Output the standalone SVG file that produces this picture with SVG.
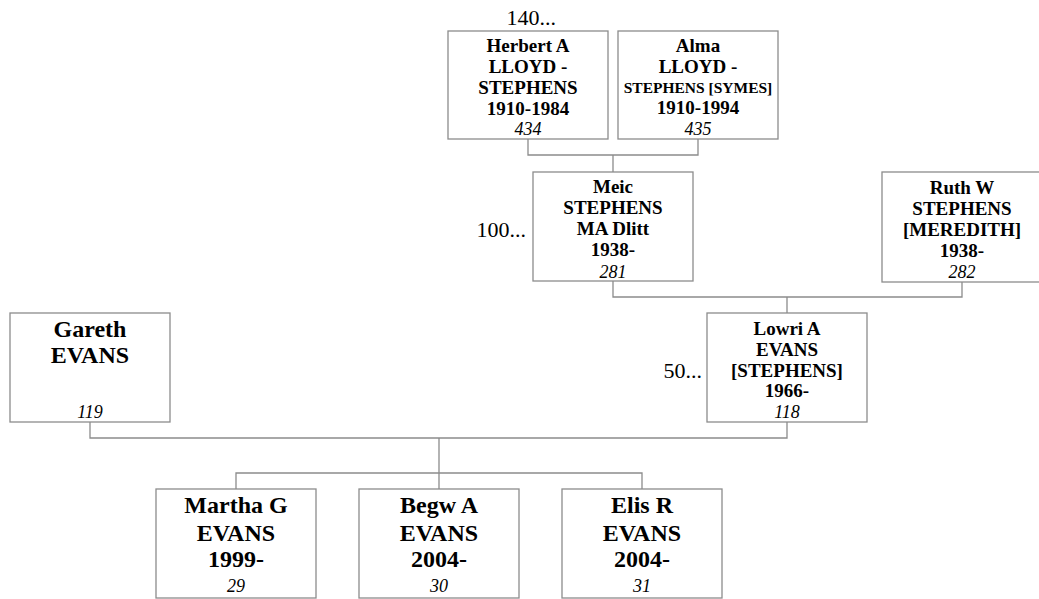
<svg xmlns="http://www.w3.org/2000/svg" width="1039" height="599" viewBox="0 0 1039 599">
<style>
.box{fill:#fff;stroke:#8c8c8c;stroke-width:1.3}
.con{fill:none;stroke:#8c8c8c;stroke-width:1.3}
text{font-family:"Liberation Serif","Times New Roman",serif;fill:#000;text-anchor:middle}
.b{font-weight:bold;font-size:19px}
.bl{font-weight:bold;font-size:24px}
.sm{font-weight:bold;font-size:15.5px}
.i{font-style:italic;font-size:18px}
.lab{font-size:22px;text-anchor:end}
</style>
<rect width="1039" height="599" fill="#fff"/>
<g id="connectors">
<path class="con" d="M528,139 V155 H698 V139 M613,155 V172"/>
<path class="con" d="M613,281 V297 H962 V282 M787,297 V313"/>
<path class="con" d="M90,422 V438 H787 V422 M439,438 V473"/>
<path class="con" d="M236,489 V473 H642 V489 M439,473 V489"/>
</g>
<g id="labels">
<text class="lab" x="556" y="25">140...</text>
<text class="lab" x="526" y="237">100...</text>
<text class="lab" x="702" y="378">50...</text>
</g>
<g id="n434">
<rect class="box" x="448" y="31" width="160" height="108"/>
<text class="b" x="528" y="52">Herbert A</text>
<text class="b" x="528" y="73">LLOYD -</text>
<text class="b" x="528" y="94">STEPHENS</text>
<text class="b" x="528" y="115">1910-1984</text>
<text class="i" x="528" y="135">434</text>
</g>
<g id="n435">
<rect class="box" x="618" y="31" width="160" height="108"/>
<text class="b" x="698" y="52">Alma</text>
<text class="b" x="698" y="73">LLOYD -</text>
<text class="sm" x="698" y="93">STEPHENS [SYMES]</text>
<text class="b" x="698" y="114">1910-1994</text>
<text class="i" x="698" y="135">435</text>
</g>
<g id="n281">
<rect class="box" x="533" y="172" width="160" height="109"/>
<text class="b" x="613" y="193">Meic</text>
<text class="b" x="613" y="214">STEPHENS</text>
<text class="b" x="613" y="235">MA Dlitt</text>
<text class="b" x="613" y="256">1938-</text>
<text class="i" x="613" y="278">281</text>
</g>
<g id="n282">
<rect class="box" x="882" y="172" width="160" height="110"/>
<text class="b" x="962" y="194">Ruth W</text>
<text class="b" x="962" y="215">STEPHENS</text>
<text class="b" x="962" y="236">[MEREDITH]</text>
<text class="b" x="962" y="257">1938-</text>
<text class="i" x="962" y="278">282</text>
</g>
<g id="n119">
<rect class="box" x="10" y="313" width="160" height="109"/>
<text class="bl" x="90" y="337">Gareth</text>
<text class="bl" x="90" y="363">EVANS</text>
<text class="i" x="90" y="418">119</text>
</g>
<g id="n118">
<rect class="box" x="707" y="313" width="160" height="109"/>
<text class="b" x="787" y="335">Lowri A</text>
<text class="b" x="787" y="356">EVANS</text>
<text class="b" x="787" y="377">[STEPHENS]</text>
<text class="b" x="787" y="397">1966-</text>
<text class="i" x="787" y="418">118</text>
</g>
<g id="n29">
<rect class="box" x="156" y="489" width="160" height="109"/>
<text class="bl" x="236" y="513">Martha G</text>
<text class="bl" x="236" y="541">EVANS</text>
<text class="bl" x="236" y="567">1999-</text>
<text class="i" x="236" y="592">29</text>
</g>
<g id="n30">
<rect class="box" x="359" y="489" width="160" height="109"/>
<text class="bl" x="439" y="513">Begw A</text>
<text class="bl" x="439" y="541">EVANS</text>
<text class="bl" x="439" y="567">2004-</text>
<text class="i" x="439" y="592">30</text>
</g>
<g id="n31">
<rect class="box" x="562" y="489" width="160" height="109"/>
<text class="bl" x="642" y="513">Elis R</text>
<text class="bl" x="642" y="541">EVANS</text>
<text class="bl" x="642" y="567">2004-</text>
<text class="i" x="642" y="592">31</text>
</g>
</svg>
